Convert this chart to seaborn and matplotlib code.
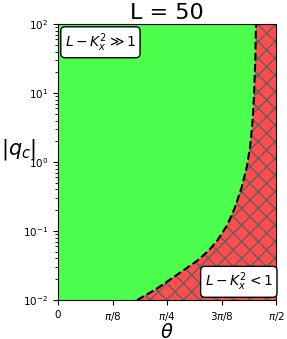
import numpy as np
import seaborn as sns
import matplotlib
matplotlib.use("Agg")
import matplotlib.pyplot as plt

# boundary L - K_x^2 = 1 (theta in rad, |q_c|)
theta_edge = [0.5698, 0.6960, 0.8546, 1.0097, 1.0890, 1.1503, 1.2189, 1.2729,
              1.3234, 1.3595, 1.3833, 1.3999, 1.4100, 1.4157, 1.4208, 1.4258]
q_edge = [0.01, 0.01396, 0.0230, 0.0380, 0.0531, 0.0741, 0.1222, 0.2153,
          0.4345, 0.847, 1.648, 3.67, 7.93, 15.42, 30.06, 100.0]

x_ticks = [0, np.pi / 8, np.pi / 4, 3 * np.pi / 8, np.pi / 2]
x_ticklabels = ["0", r"$\pi/8$", r"$\pi/4$", r"$3\pi/8$", r"$\pi/2$"]

sns.set_style("ticks")
plt.rcParams["font.family"] = ["DejaVu Sans"]
plt.rcParams.update({
    "hatch.linewidth": 1.0,
    "text.color": "black",
    "axes.labelcolor": "black",
    "axes.edgecolor": "black",
    "xtick.color": "black",
    "ytick.color": "black",
    "xtick.major.size": 3.5,
    "ytick.major.size": 3.5,
    "ytick.minor.size": 2,
    "ytick.minor.visible": True,
})

fig = plt.figure(figsize=(2.87, 3.39), dpi=100)
ax = fig.add_axes([0.202, 0.115, 0.760, 0.814])

# green = valid region, red hatched = L - K_x^2 < 1
ax.fill_betweenx(q_edge, 0, theta_edge, facecolor=(0.3, 1.0, 0.3), linewidth=0)
ax.fill_betweenx(q_edge, theta_edge, np.pi / 2, facecolor=(1.0, 0.3, 0.3),
                 edgecolor="#606060", hatch="xx", linewidth=0)
sns.lineplot(x=theta_edge, y=q_edge, sort=False, estimator=None, color="black",
             linestyle="--", linewidth=1.5, ax=ax)

ax.set_yscale("log")
ax.set_xlim(0, np.pi / 2)
ax.set_ylim(1e-2, 1e2)
ax.set_xticks(x_ticks)
ax.set_xticklabels(x_ticklabels)
ax.tick_params(labelsize=7.5)
for s in ax.spines.values():
    s.set_visible(True)

ax.set_title("L = 50", fontsize=16, pad=4)
ax.set_xlabel(r"$\theta$", fontsize=14, labelpad=0)
ax.set_ylabel(r"$|q_c|$", fontsize=15, rotation=0, ha="right", va="center")
ax.yaxis.set_label_coords(-0.1, 0.545)

box = dict(boxstyle="round", facecolor="white", edgecolor="black", linewidth=1)
ax.text(0.032, 0.975, r"$L - K_x^2 \gg 1$", transform=ax.transAxes, fontsize=10,
        ha="left", va="top", bbox=box)
ax.text(0.985, 0.025, r"$L - K_x^2 < 1$", transform=ax.transAxes, fontsize=10,
        ha="right", va="bottom", bbox=box)

fig.savefig("out.png", dpi=100)
